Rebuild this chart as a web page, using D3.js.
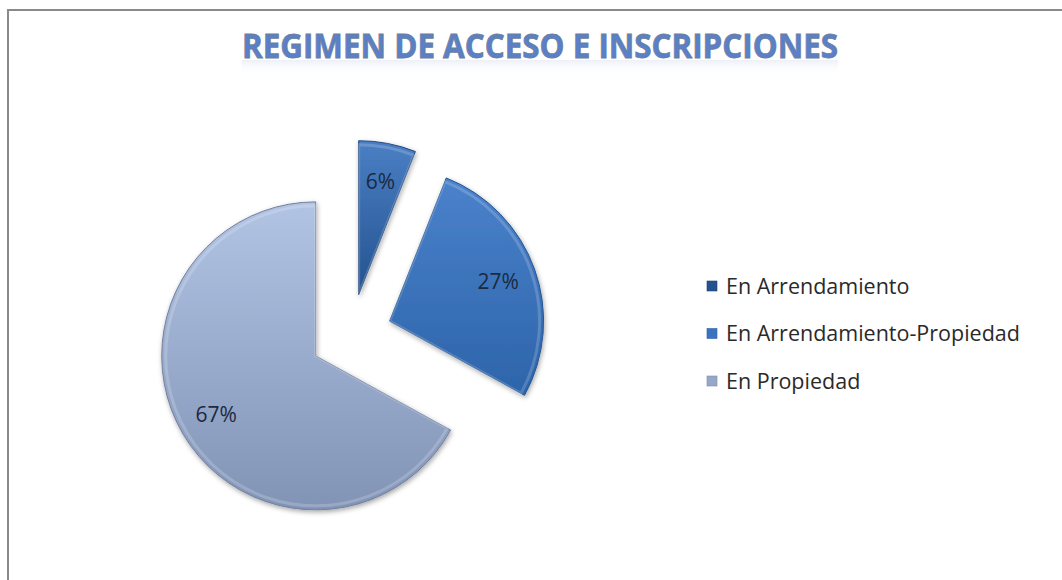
<!DOCTYPE html>
<html>
  <head>
    <meta charset="utf-8">
    <title>Regimen de acceso</title>
    <script src="https://d3js.org/d3.v7.min.js"></script>
    <style>
      body { margin: 0; background: #fff; }
    </style>
  </head>
  <body>
    <div id="chart"></div>
    <script>
// data
const categories = ["En Arrendamiento", "En Arrendamiento-Propiedad", "En Propiedad"];
const values = [6, 27, 67];
const labels = ["6%", "27%", "67%"];

const width = 1062;
const height = 580;

// slice colours: [light, dark] pairs for gradients
const sliceColors = [
  ["#4a7fc4", "#24528f"],
  ["#4a82cb", "#2d64aa"],
  ["#b2c4e4", "#8294b6"]
];

const svg = d3.select("#chart").append("svg")
  .attr("width", width)
  .attr("height", height)
  .attr("viewBox", [0, 0, width, height]);

const defs = svg.append("defs");

sliceColors.forEach((c, i) => {
  const g = defs.append("linearGradient")
    .attr("id", "grad" + i)
    .attr("x1", 0).attr("y1", 0).attr("x2", 0).attr("y2", 1);
  g.append("stop").attr("offset", "0%").attr("stop-color", c[0]);
  g.append("stop").attr("offset", "100%").attr("stop-color", c[1]);
});

const shadow = defs.append("filter").attr("id", "shadow")
  .attr("x", "-20%").attr("y", "-20%").attr("width", "140%").attr("height", "140%");
shadow.append("feDropShadow")
  .attr("dx", 1).attr("dy", 2).attr("stdDeviation", 2.5)
  .attr("flood-color", "#000").attr("flood-opacity", 0.35);

// title reflection fade
const fade = defs.append("linearGradient")
  .attr("id", "titleFade")
  .attr("x1", 0).attr("y1", 0).attr("x2", 0).attr("y2", 1);
fade.append("stop").attr("offset", "0%").attr("stop-color", "#c9d3e6").attr("stop-opacity", 0.35);
fade.append("stop").attr("offset", "100%").attr("stop-color", "#ffffff").attr("stop-opacity", 0);

// chart border (extends past right/bottom edge)
svg.append("rect")
  .attr("x", 8).attr("y", 10)
  .attr("width", width + 20).attr("height", height + 20)
  .attr("fill", "#fff")
  .attr("stroke", "#8a8a8a")
  .attr("stroke-width", 2);

// faint reflection band under the title
svg.append("rect")
  .attr("x", 242).attr("y", 60)
  .attr("width", 596).attr("height", 14)
  .attr("fill", "url(#titleFade)");

// title
svg.append("text")
  .attr("x", 540).attr("y", 58)
  .attr("text-anchor", "middle")
  .attr("font-family", "'Open Sans', sans-serif")
  .attr("font-size", 34)
  .attr("font-weight", "bold")
  .attr("textLength", 596)
  .attr("lengthAdjust", "spacingAndGlyphs")
  .attr("fill", "#5a80c8")
  .attr("stroke", "#6f7f98")
  .attr("stroke-width", 0.8)
  .text("REGIMEN DE ACCESO E INSCRIPCIONES");

// pie
const cx = 351, cy = 335;
const radius = 154;
const explode = 41;

const pie = d3.pie().sort(null).value(d => d);
const arcs = pie(values);

const arc = d3.arc().innerRadius(0).outerRadius(radius);
const labelArc = d3.arc().innerRadius(radius * 0.75).outerRadius(radius * 0.75);

const pieG = svg.append("g").attr("transform", `translate(${cx},${cy})`);

const slice = pieG.selectAll("g.slice")
  .data(arcs)
  .join("g")
  .attr("class", "slice")
  .attr("transform", d => {
    const a = (d.startAngle + d.endAngle) / 2;
    return `translate(${explode * Math.sin(a)},${-explode * Math.cos(a)})`;
  });

slice.append("path")
  .attr("d", arc)
  .attr("fill", (d, i) => `url(#grad${i})`)
  .attr("stroke", (d, i) => d3.color(sliceColors[i][1]).darker(0.4))
  .attr("stroke-width", 1)
  .attr("filter", "url(#shadow)");

// inner bevel highlight
slice.append("path")
  .attr("d", d3.arc().innerRadius(0).outerRadius(radius - 4))
  .attr("fill", "none")
  .attr("stroke", "#ffffff")
  .attr("stroke-opacity", 0.18)
  .attr("stroke-width", 3);

slice.append("text")
  .attr("transform", d => `translate(${labelArc.centroid(d)})`)
  .attr("text-anchor", "middle")
  .attr("dy", "0.35em")
  .attr("font-family", "'Open Sans', sans-serif")
  .attr("font-size", 21)
  .attr("fill", "#1c2940")
  .text((d, i) => labels[i]);

// legend
const legendColors = ["#24528f", "#3a74c0", "#95a8c9"];
const legendY = d3.scalePoint()
  .domain(categories)
  .range([286, 381]);

const legend = svg.append("g");
const item = legend.selectAll("g")
  .data(categories)
  .join("g")
  .attr("transform", d => `translate(707,${legendY(d)})`);

item.append("rect")
  .attr("x", 0).attr("y", -5)
  .attr("width", 10).attr("height", 10)
  .attr("fill", (d, i) => legendColors[i])
  .attr("stroke", (d, i) => d3.color(legendColors[i]).darker(0.5))
  .attr("stroke-width", 0.6);

item.append("text")
  .attr("x", 19)
  .attr("dy", "0.35em")
  .attr("font-family", "'Open Sans', sans-serif")
  .attr("font-size", 21.5)
  .attr("fill", "#2a2a2a")
  .text(d => d);
    </script>
  </body>
</html>
